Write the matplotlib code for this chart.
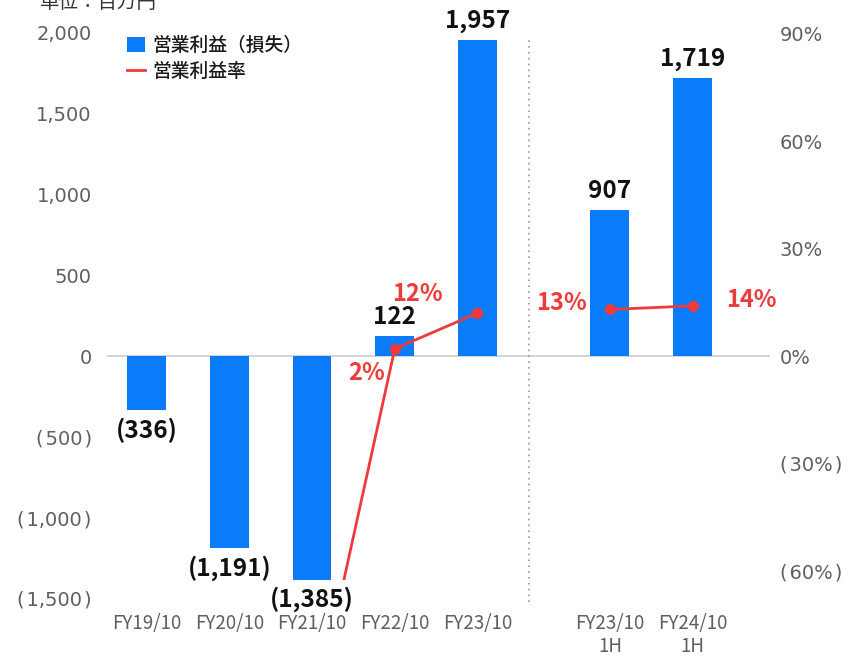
import matplotlib
matplotlib.use("Agg")
import matplotlib.pyplot as plt
from matplotlib.patches import Rectangle
from matplotlib.lines import Line2D
import numpy as np

plt.rcParams['font.family'] = ['Noto Sans CJK JP', 'DejaVu Sans']

# ---- data ----
categories = ["FY19/10", "FY20/10", "FY21/10", "FY22/10", "FY23/10", "FY23/10\n1H", "FY24/10\n1H"]
op_income = [-336, -1191, -1385, 122, 1957, 907, 1719]
bar_labels = ["(336)", "(1,191)", "(1,385)", "122", "1,957", "907", "1,719"]
# annual margin (%) – FY19/FY20 fall far below the visible range
margin_annual = [np.nan, np.nan, -103, 2, 12]
margin_half = [13, 14]
margin_labels_annual = ["", "", "", "2%", "12%"]
margin_labels_half = ["13%", "14%"]
left_ticks = [-1500, -1000, -500, 0, 500, 1000, 1500, 2000]
left_ticklabels = ["(\u200a1,500\u200a)", "(\u200a1,000\u200a)", "(\u200a500\u200a)", "0",
                   "500", "1,000", "1,500", "2,000"]
right_ticks = [-60, -30, 0, 30, 60, 90]
right_ticklabels = ["(\u200a60%\u200a)", "(\u200a30%\u200a)", "0%", "30%", "60%", "90%"]
x_pos = [0, 1, 2, 3, 4, 5.6, 6.6]

BLUE = "#0A7CFA"
RED = "#EE3A3A"
GREY = "#5f5f5f"
TICKFONT = ['DejaVu Sans', 'Noto Sans CJK JP']

W, H = 849, 656
fig = plt.figure(figsize=(W / 100, H / 100), dpi=100)
ax_l, ax_r, ax_t, ax_b = 107, 770, 30, 605
ax = fig.add_axes([ax_l / W, 1 - ax_b / H, (ax_r - ax_l) / W, (ax_b - ax_t) / H])
ax2 = ax.twinx()

# scales
px_per_unit = 0.1615
px_per_pct = 3.58
zero_px = 356
ax.set_ylim(-(ax_b - zero_px) / px_per_unit, (zero_px - ax_t) / px_per_unit)
ax2.set_ylim(-(ax_b - zero_px) / px_per_pct, (zero_px - ax_t) / px_per_pct)
unit_x = 82.75
ax.set_xlim((ax_l - 146.5) / unit_x, (ax_r - 146.5) / unit_x)

bars = ax.bar(x_pos, op_income, width=0.47, color=BLUE, zorder=2)
ax.axhline(0, color="#cccccc", lw=1.2, zorder=1)
ax.axvline(4.62, ymin=0.005, ymax=(ax_b - 37) / (ax_b - ax_t), color="#999999",
           lw=1.2, ls=(0, (1, 2.5)), zorder=1)

for xp, v, lab in zip(x_pos, op_income, bar_labels):
    off = 19 if v > 0 else -20
    ax.annotate(lab, (xp, v), xytext=(0, off * 0.72), textcoords="offset points",
                ha="center", va="center", fontsize=17.5, fontweight="bold", color="#111111")

# margin lines
line1, = ax2.plot(x_pos[:5], margin_annual, color=RED, lw=2, marker="o", ms=7, zorder=3)
clip = Rectangle((-5, -62.7), 20, 200, transform=ax2.transData)
line1.set_clip_path(clip)
ax2.plot(x_pos[5:], margin_half, color=RED, lw=2, marker="o", ms=7, zorder=3)

lab_offsets_annual = {3: (-10, -24, "right"), 4: (-35, 19, "right")}
for i, (off_x, off_y, ha) in lab_offsets_annual.items():
    ax2.annotate(margin_labels_annual[i], (x_pos[i], margin_annual[i]),
                 xytext=(off_x * 0.72, off_y * 0.72), textcoords="offset points",
                 ha=ha, va="center", fontsize=17, fontweight="bold", color=RED)
half_offsets = [(-23, 6, "right"), (33, 6, "left")]
for j, (off_x, off_y, ha) in enumerate(half_offsets):
    ax2.annotate(margin_labels_half[j], (x_pos[5 + j], margin_half[j]),
                 xytext=(off_x * 0.72, off_y * 0.72), textcoords="offset points",
                 ha=ha, va="center", fontsize=17, fontweight="bold", color=RED)

# axes styling
for a in (ax, ax2):
    for s in a.spines.values():
        s.set_visible(False)
ax.set_yticks(left_ticks)
ax.set_yticklabels(left_ticklabels, family=TICKFONT)
ax.tick_params(axis="y", length=0, pad=11, labelsize=14, labelcolor=GREY)
ax2.set_yticks(right_ticks)
ax2.set_yticklabels(right_ticklabels, family=TICKFONT)
ax2.tick_params(axis="y", length=0, pad=7, labelsize=14, labelcolor=GREY)
ax.set_xticks(x_pos)
ax.set_xticklabels(categories, linespacing=1.1)
ax.tick_params(axis="x", length=0, pad=6, labelsize=13.5, labelcolor=GREY)
ax2.set_zorder(ax.get_zorder() + 1)
ax2.patch.set_visible(False)

leg_line = Line2D([], [], color=RED, lw=2)
leg = ax.legend(handles=[bars, leg_line], labels=["営業利益（損失）", "営業利益率"],
                loc="upper left", bbox_to_anchor=(127 / W, 1 - 36 / H),
                bbox_transform=fig.transFigure, frameon=False, fontsize=13.5,
                handlelength=0.95, handleheight=0.85, handletextpad=0.4,
                labelspacing=0.35, borderpad=0, borderaxespad=0)
for t in leg.get_texts():
    t.set_color("#1a1a1a")
    t.set_fontweight("medium")

fig.text(40 / W, 1 - 2 / H, "単位：百万円", fontsize=14, color="#333333", va="center", ha="left")

fig.savefig("out.png", dpi=100)
